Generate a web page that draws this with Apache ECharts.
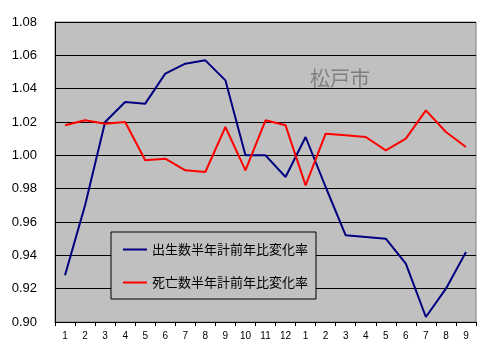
<!DOCTYPE html>
<html><head><meta charset="utf-8">
<script src="https://cdn.jsdelivr.net/npm/echarts@6/dist/echarts.min.js"></script>
<style>html,body{margin:0;padding:0;background:#fff}#c{width:490px;height:357px}</style>
</head><body><div id="c"></div>
<script>
var categories = ['1','2','3','4','5','6','7','8','9','10','11','12','1','2','3','4','5','6','7','8','9'];
var birthRatio = [0.928,0.970,1.020,1.032,1.031,1.049,1.055,1.057,1.045,1.000,1.000,0.987,1.011,0.981,0.952,0.951,0.950,0.935,0.903,0.920,0.942];
var deathRatio = [1.018,1.021,1.019,1.020,0.997,0.998,0.991,0.990,1.017,0.991,1.021,1.018,0.982,1.013,1.012,1.011,1.003,1.010,1.027,1.014,1.005];
var seriesNames = ['出生数半年計前年比変化率','死亡数半年計前年比変化率'];
var titleText = '松戸市';
var yMin = 0.90, yMax = 1.08, yStep = 0.02;

var chart = echarts.init(document.getElementById('c'), null, {renderer:'canvas'});
chart.setOption({
  animation:false,
  backgroundColor:'#ffffff',
  title:{text:titleText, left:305, top:63, textStyle:{fontFamily:'Noto Sans CJK JP', fontSize:20, fontWeight:'normal', color:'#808080'}},
  grid:{left:55, right:14, top:22, bottom:35, show:true, backgroundColor:'#C0C0C0', borderColor:'#808080', borderWidth:1},
  legend:{
    orient:'vertical', left:111, top:232,
    backgroundColor:'#C0C0C0', borderColor:'#000', borderWidth:1,
    padding:[11,8,10,12], itemGap:20, itemWidth:24, itemHeight:2, icon:'rect',
    textStyle:{fontFamily:'Noto Sans CJK JP', fontSize:13, color:'#000'},
    data:seriesNames
  },
  xAxis:{
    type:'category', data:categories, boundaryGap:true,
    axisLine:{lineStyle:{color:'#000', width:1}},
    axisTick:{show:true, interval:0, length:4, lineStyle:{color:'#000'}},
    axisLabel:{interval:0, fontFamily:'Liberation Sans', fontSize:10, color:'#000', margin:9}
  },
  yAxis:{
    type:'value', min:yMin, max:yMax, interval:yStep,
    axisLine:{show:true, lineStyle:{color:'#000', width:1}},
    axisTick:{show:true, inside:true, length:5, lineStyle:{color:'#000'}},
    splitLine:{show:true, lineStyle:{color:'#000', width:1}},
    axisLabel:{fontFamily:'Liberation Sans', fontSize:13, color:'#000', margin:18,
      formatter:function(v){return v.toFixed(2);}}
  },
  series:[
    {name:seriesNames[0], type:'line', data:birthRatio, symbol:'none', lineStyle:{color:'#000080', width:2}, itemStyle:{color:'#000080'}},
    {name:seriesNames[1], type:'line', data:deathRatio, symbol:'none', lineStyle:{color:'#FF0000', width:2}, itemStyle:{color:'#FF0000'}}
  ]
});
</script></body></html>
